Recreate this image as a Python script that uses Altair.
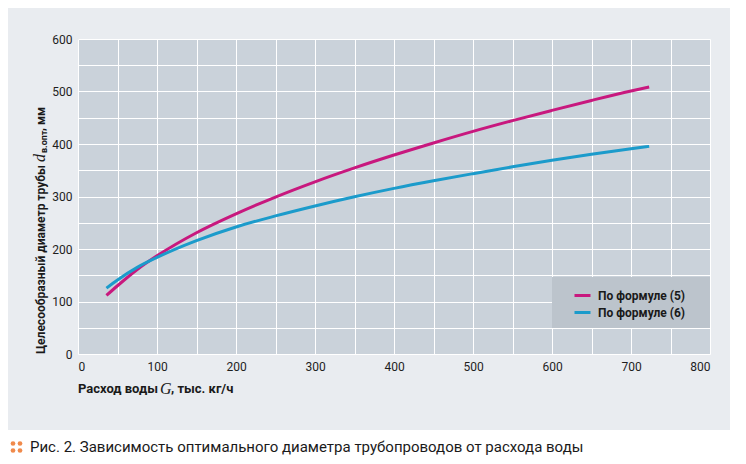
import altair as alt
import pandas as pd

# ---- data ----
G = [36, 50, 75, 100, 150, 200, 250, 300, 350, 400, 450, 500, 550, 600, 650, 700, 723]
d5 = [111.5, 130, 161, 187, 231, 267, 299, 328, 354.5, 379, 402, 424, 444.5, 464, 483, 501, 508.5]
d6 = [125.5, 141, 165, 184, 216, 242, 263, 282, 299.5, 315.5, 330, 343.5, 356.5, 369, 380.5, 391, 395.5]
series = ["По формуле (5)", "По формуле (6)"]
colors = ["#c8187e", "#1b9bcb"]
x_ticks = list(range(0, 801, 50))
y_ticks = list(range(0, 601, 50))

x_title_parts = ["Расход воды", "G", ", тыс. кг/ч"]
y_title_parts = ["Целесообразный диаметр трубы", "d", "в.опт", ", мм"]
caption = "Рис. 2. Зависимость оптимального диаметра трубопроводов от расхода воды"

df = pd.DataFrame({
    "G": G + G,
    "d": d5 + d6,
    "s": [series[0]] * len(G) + [series[1]] * len(G),
})

FONT = "Roboto"
SERIF = "Liberation Serif"
one = pd.DataFrame({"k": [0]})

xs = alt.Scale(domain=[0, 800], nice=False)
ys = alt.Scale(domain=[0, 600], nice=False)

legend_box = alt.Chart(one).mark_rect(color="#bcc4cc").encode(
    x=alt.value(474), x2=alt.value(632), y=alt.value(238), y2=alt.value(289)
)

lines = alt.Chart(df).mark_line(strokeWidth=3, interpolate="monotone").encode(
    x=alt.X("G:Q", scale=xs, axis=alt.Axis(
        values=x_ticks,
        labelExpr="datum.value % 100 === 0 ? datum.label : ''",
        title=None, labelPadding=7)),
    y=alt.Y("d:Q", scale=ys, axis=alt.Axis(
        values=y_ticks,
        labelExpr="datum.value % 100 === 0 ? datum.label : ''",
        title=None, labelPadding=6)),
    color=alt.Color("s:N", scale=alt.Scale(domain=series, range=colors),
                    legend=alt.Legend(title=None, orient="none", legendX=495, legendY=247,
                                      symbolType="stroke", symbolSize=256, symbolStrokeWidth=3,
                                      labelFont=FONT, labelFontSize=12, labelFontWeight="bold",
                                      labelColor="#1a1a1a", labelOffset=6, rowPadding=1,
                                      padding=0)),
)


def label(text, x, y, size, font=FONT, weight="bold", style="normal", angle=0, color="#1a1a1a"):
    return alt.Chart(one).mark_text(
        align="left", baseline="middle", fontSize=size, font=font, fontWeight=weight,
        fontStyle=style, angle=angle, color=color,
    ).encode(x=alt.value(x), y=alt.value(y), text=alt.value(text))


def dot(x, y):
    return alt.Chart(one).mark_circle(size=22, color="#f08a4b", opacity=1).encode(
        x=alt.value(x), y=alt.value(y))


# x-axis title (with italic G), below the plot
XY = 350
xt = [
    label(x_title_parts[0], 0, XY, 13),
    label(x_title_parts[1], 82, XY, 16, font=SERIF, weight="normal", style="italic"),
    label(x_title_parts[2], 93, XY, 13),
]

# y-axis title (with italic d and subscript)
YX = -37
yt = [
    label(y_title_parts[0], YX, 315, 12, angle=270),
    label(y_title_parts[1], YX - 1, 123, 16, font=SERIF, weight="normal", style="italic", angle=270),
    label(y_title_parts[2], YX + 3, 114, 9, angle=270),
    label(y_title_parts[3], YX, 92, 12, angle=270),
]

white_rect = alt.Chart(one).mark_rect(color="white").encode(
    x=alt.value(-80), x2=alt.value(670), y=alt.value(391), y2=alt.value(430)
)

cap = label(caption, -48, 408, 15, weight="normal")
dots = [dot(-65, 404.5), dot(-58, 404.5), dot(-65, 411.5), dot(-58, 411.5)]

chart = alt.layer(legend_box, lines, *xt, *yt, white_rect, cap, *dots).properties(
    width=632, height=315,
    padding={"left": 70, "top": 31, "right": 20, "bottom": 102},
    autosize=alt.AutoSizeParams(type="none"),
    background="#e9ecf0",
).configure_view(fill="#cad2da", stroke=None).configure_axis(
    grid=True, gridColor="white", gridWidth=1, gridOpacity=1,
    domain=False, ticks=False,
    labelFont=FONT, labelFontSize=12, labelColor="#1e1e1e",
)

chart.save("out.html", embed_options={"renderer": "svg", "actions": False})
